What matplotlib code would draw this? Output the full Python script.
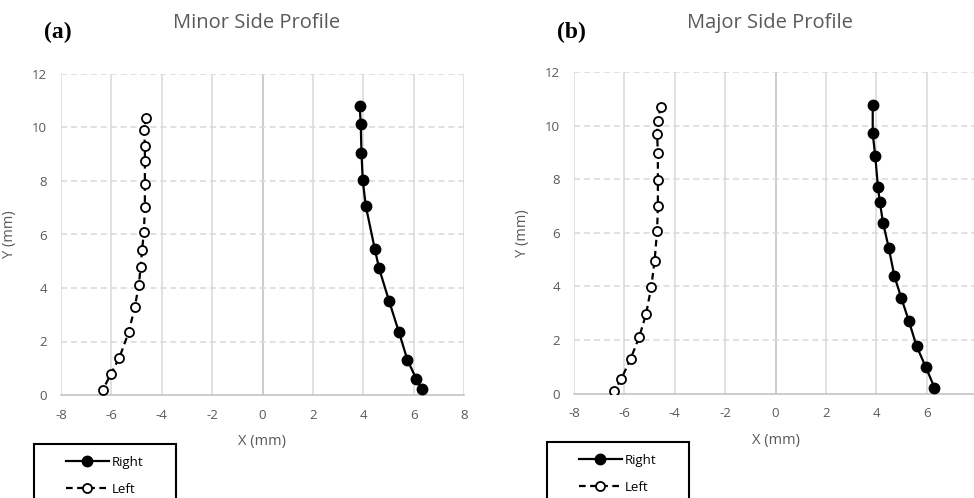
import matplotlib.pyplot as plt
from matplotlib.patches import Rectangle
from matplotlib.lines import Line2D

# Minor side profile (a)
minor_right_x = [3.86, 3.90, 3.93, 3.98, 4.10, 4.46, 4.63, 5.02, 5.42, 5.75, 6.11, 6.32]
minor_right_y = [10.79, 10.13, 9.04, 8.02, 7.07, 5.45, 4.73, 3.53, 2.34, 1.32, 0.59, 0.22]
minor_left_x = [-4.63, -4.70, -4.67, -4.67, -4.67, -4.67, -4.71, -4.78, -4.84, -4.91,
                -5.07, -5.31, -5.69, -6.03, -6.35]
minor_left_y = [10.37, 9.89, 9.32, 8.73, 7.90, 7.02, 6.09, 5.43, 4.78, 4.11,
                3.29, 2.35, 1.38, 0.77, 0.17]

# Major side profile (b)
major_right_x = [3.86, 3.86, 3.96, 4.07, 4.14, 4.27, 4.50, 4.72, 5.00, 5.29, 5.60, 5.97, 6.31]
major_right_y = [10.76, 9.71, 8.86, 7.69, 7.16, 6.37, 5.42, 4.38, 3.55, 2.72, 1.77, 0.98, 0.22]
major_left_x = [-4.56, -4.67, -4.70, -4.67, -4.67, -4.67, -4.70, -4.80, -4.93, -5.14,
                -5.41, -5.75, -6.12, -6.40]
major_left_y = [10.70, 10.18, 9.67, 8.96, 7.97, 7.01, 6.08, 4.96, 3.99, 2.96,
                2.11, 1.30, 0.55, 0.09]

titles = ["Minor Side Profile", "Major Side Profile"]
tags = ["(a)", "(b)"]
x_ticks = [-8, -6, -4, -2, 0, 2, 4, 6, 8]
y_ticks = [0, 2, 4, 6, 8, 10, 12]

W, H = 974, 498
plt.rcParams['font.family'] = ['Open Sans', 'DejaVu Sans']
plt.rcParams['axes.unicode_minus'] = False
fig = plt.figure(figsize=(W / 100, H / 100), dpi=100)

text_col = '#595959'
grid_col = '#d9d9d9'

# axes boxes in pixels: left, top, right, bottom
boxes = [(61, 74, 464, 395), (574, 72, 977, 393.5)]
data = [(minor_right_x, minor_right_y, minor_left_x, minor_left_y),
        (major_right_x, major_right_y, major_left_x, major_left_y)]
legend_boxes = [(34, 444, 176), (547, 442, 689)]

for i in range(2):
    l, t, r, b = boxes[i]
    ax = fig.add_axes([l / W, 1 - b / H, (r - l) / W, (b - t) / H])
    rx, ry, lx, ly = data[i]

    # excel-like grid: solid verticals, dashed horizontals
    for xv in x_ticks:
        ax.axvline(xv, color='#bfbfbf' if xv == 0 else grid_col, lw=1.1, zorder=0)
    for yv in y_ticks[1:]:
        ax.axhline(yv, color=grid_col, lw=1.1, ls=(0, (4, 2.5)), zorder=0)

    ax.plot(rx, ry, color='black', lw=1.6, marker='o', ms=7.5,
            mfc='black', mec='black', label='Right', zorder=3)
    ax.plot(lx, ly, color='black', lw=1.6, ls=(0, (3, 2)), marker='o', ms=6.5,
            mfc='white', mec='black', mew=1.3, label='Left', zorder=3)

    ax.set_xlim(-8, 8)
    ax.set_ylim(0, 12)
    ax.set_xticks(x_ticks)
    ax.set_yticks(y_ticks)
    for s in ['top', 'right', 'left']:
        ax.spines[s].set_visible(False)
    ax.spines['bottom'].set_color('#bfbfbf')
    ax.spines['bottom'].set_linewidth(1.1)
    ax.tick_params(axis='x', length=0, colors=text_col, labelsize=9.5, pad=10)
    ax.tick_params(axis='y', length=0, colors=text_col, labelsize=9.5, pad=10)
    ax.set_xlabel("X (mm)", color=text_col, fontsize=10.5, labelpad=9)
    ax.set_ylabel("Y (mm)", color=text_col, fontsize=10.5, labelpad=11)

    fig.text((l + 196) / W, 1 - 23 / H, titles[i], ha='center', va='center',
             color=text_col, fontsize=14.5)
    fig.text((l - 17) / W, 1 - 32 / H, tags[i], ha='left', va='center',
             fontsize=17, fontweight='bold', family='Liberation Serif')

    lx0, ly0, lx1 = legend_boxes[i]
    fig.patches.append(Rectangle((lx0 / W, -0.05), (lx1 - lx0) / W, 1 - ly0 / H + 0.05,
                                 transform=fig.transFigure, fill=False,
                                 edgecolor='black', lw=1.5))
    handles = [Line2D([], [], color='black', lw=1.6, marker='o', ms=7.5, mfc='black'),
               Line2D([], [], color='black', lw=1.6, ls=(0, (3, 2)), marker='o', ms=6.5,
                      mfc='white', mew=1.3)]
    fig.legend(handles, ['Right', 'Left'], loc='upper left',
               bbox_to_anchor=((lx0 + 25) / W, 1 - (ly0 + 5) / H),
               frameon=False, fontsize=9.5, handlelength=3.3, handletextpad=0.2,
               labelspacing=1.1, borderpad=0, labelcolor='black')

fig.savefig("out.png", dpi=100)
